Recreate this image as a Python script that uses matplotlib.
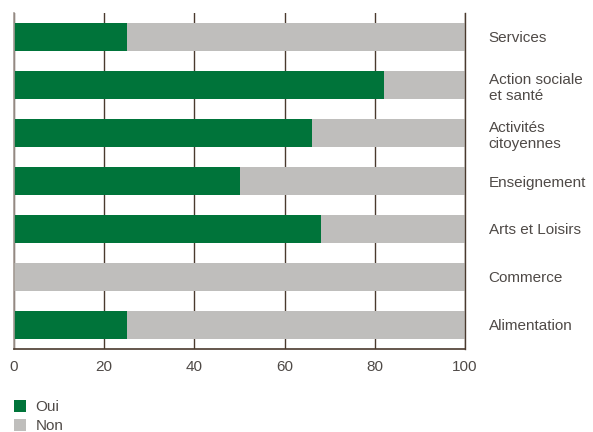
import matplotlib
matplotlib.use('Agg')
import matplotlib.pyplot as plt
import numpy as np

plt.rcParams['font.family'] = ['Liberation Sans', 'DejaVu Sans']

categories = ['Services', 'Action sociale\net santé', 'Activités\ncitoyennes',
              'Enseignement', 'Arts et Loisirs', 'Commerce', 'Alimentation']
oui = [25, 82, 66, 50, 68, 0, 25]
non = [100 - v for v in oui]
xticks = [0, 20, 40, 60, 80, 100]

green = '#00743a'
grey = '#bfbebc'
brown = '#4a3a2e'
text_col = '#4f4a47'

fig = plt.figure(figsize=(5.93, 4.32), dpi=100)
ax = fig.add_axes([14 / 593, 1 - 349 / 432, 451 / 593, 336 / 432])

y = np.arange(len(categories))
b1 = ax.barh(y, oui, height=0.58, color=green, label='Oui', zorder=2)
b2 = ax.barh(y, non, left=oui, height=0.58, color=grey, label='Non', zorder=2)

ax.set_xlim(0, 100)
ax.set_ylim(-0.5, len(categories) - 0.5)
ax.invert_yaxis()

ax.set_xticks(xticks)
ax.set_xticklabels([str(t) for t in xticks])
ax.tick_params(axis='x', length=0, pad=8, labelsize=11, labelcolor=text_col)
ax.xaxis.grid(True, color=brown, linewidth=1)
ax.set_axisbelow(True)

ax.yaxis.tick_right()
ax.set_yticks(y)
ax.set_yticklabels(categories, ha='left', linespacing=1.2)
ax.tick_params(axis='y', length=0, pad=17, labelsize=11, labelcolor=text_col)

ax.spines['top'].set_visible(False)
ax.spines['left'].set_color('#a39a93')
ax.spines['left'].set_linewidth(1.2)
ax.spines['bottom'].set_color(brown)
ax.spines['bottom'].set_linewidth(1.2)
ax.spines['right'].set_color(brown)
ax.spines['right'].set_linewidth(1)

# legend bottom-left, squares at x=14
fig.legend(handles=[b1, b2], loc='upper left', bbox_to_anchor=(14 / 593, 1 - 400 / 432),
           frameon=False, fontsize=11, handlelength=0.8, handleheight=0.85,
           handletextpad=0.6, labelspacing=0.3, borderpad=0, borderaxespad=0,
           labelcolor=text_col)

plt.savefig('out.png', dpi=100)
